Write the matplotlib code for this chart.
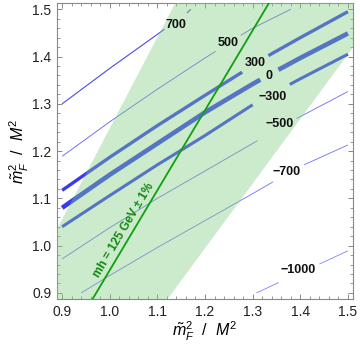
import matplotlib
matplotlib.use("Agg")
import matplotlib.pyplot as plt
import numpy as np
from matplotlib.ticker import MultipleLocator, FormatStrFormatter

plt.rcParams['font.family'] = ['Liberation Sans', 'DejaVu Sans']
plt.rcParams['mathtext.fontset'] = 'custom'
plt.rcParams['mathtext.rm'] = 'Liberation Sans'
plt.rcParams['mathtext.it'] = 'Liberation Sans:italic'

# contour lines (x, y), None = gap for the label
c700_x = [0.90, 1.00, 1.10, 1.115, None, 1.162, 1.17]
c700_y = [1.30, 1.375, 1.447, 1.458, None, 1.492, 1.50]
c500_x = [0.90, 1.00, 1.10, 1.20, 1.222, None, 1.275, 1.30, 1.38]
c500_y = [1.189, 1.262, 1.331, 1.397, 1.411, None, 1.445, 1.46, 1.50]
c300_x = [0.90, 1.00, 1.10, 1.20, 1.278, None, 1.333, 1.40, 1.50]
c300_y = [1.117, 1.187, 1.254, 1.318, 1.367, None, 1.402, 1.440, 1.495]
c0_x = [0.90, 1.00, 1.10, 1.20, 1.30, 1.316, None, 1.354, 1.40, 1.50]
c0_y = [1.080, 1.150, 1.216, 1.282, 1.342, 1.351, None, 1.372, 1.397, 1.449]
cm300_x = [0.90, 1.00, 1.10, 1.20, 1.30, None, 1.378, 1.40, 1.50]
cm300_y = [1.040, 1.106, 1.171, 1.233, 1.298, None, 1.341, 1.353, 1.405]
cm500_x = [0.90, 1.00, 1.10, 1.20, 1.31, None, 1.392, 1.40, 1.50]
cm500_y = [0.972, 1.038, 1.100, 1.158, 1.222, None, 1.269, 1.273, 1.326]
cm700_x = [0.94, 1.00, 1.10, 1.20, 1.30, 1.343, None, 1.408, 1.50]
cm700_y = [0.90, 0.937, 0.996, 1.053, 1.110, 1.135, None, 1.171, 1.213]
cm1000_x = [1.308, 1.355, None, 1.44, 1.50]
cm1000_y = [0.90, 0.922, None, 0.961, 0.989]

contour_labels = ["700", "500", "300", "0", "\u2212300", "\u2212500", "\u2212700", "\u22121000"]
label_x = [1.139, 1.248, 1.305, 1.334, 1.342, 1.357, 1.372, 1.395]
label_y = [1.466, 1.428, 1.386, 1.358, 1.314, 1.257, 1.155, 0.948]

# allowed band (m_h = 125 GeV +- 1%)
band_x = [0.87, 0.87, 1.141, 1.52, 1.52, 1.109]
band_y = [0.87, 0.998, 1.52, 1.52, 1.432, 0.87]

# m_h = 125 GeV line
mh_x = [0.955, 1.340]
mh_y = [0.872, 1.523]

lines = [
    (c700_x, c700_y, 0.8, '#4a4ae8'),
    (c500_x, c500_y, 0.6, '#5e5ef5'),
    (c300_x, c300_y, 2.4, '#3a3af0'),
    (c0_x, c0_y, 3.3, '#3a3af0'),
    (cm300_x, cm300_y, 2.2, '#3a3af0'),
    (cm500_x, cm500_y, 0.6, '#6a6af5'),
    (cm700_x, cm700_y, 0.6, '#7070f8'),
    (cm1000_x, cm1000_y, 0.6, '#8080ff'),
]

fig = plt.figure(figsize=(3.6, 3.51), dpi=100)
ax = fig.add_axes([0.158, 0.148, 0.823, 0.843])

for xs, ys, lw, col in lines:
    xx = np.array([np.nan if v is None else v for v in xs], dtype=float)
    yy = np.array([np.nan if v is None else v for v in ys], dtype=float)
    ax.plot(xx, yy, color=col, lw=lw, solid_capstyle='butt', zorder=2)

ax.fill(band_x, band_y, color=(0.5, 0.8, 0.5), alpha=0.4, lw=0, zorder=3)
ax.plot(mh_x, mh_y, color='#11a011', lw=1.3, zorder=4)

for t, x, y in zip(contour_labels, label_x, label_y):
    ax.text(x, y, t, ha='center', va='center', fontsize=9, fontweight='bold',
            color='#111111', zorder=5)

ax.text(1.030, 1.033, "mh = 125 GeV \u00b1 1%", rotation=59.3, ha='center',
        va='center', fontsize=8.5, fontweight='semibold', color='#118811',
        rotation_mode='anchor', zorder=5)

ax.set_xlim(0.889, 1.511)
ax.set_ylim(0.887, 1.513)
ax.xaxis.set_major_locator(MultipleLocator(0.1))
ax.xaxis.set_minor_locator(MultipleLocator(0.02))
ax.yaxis.set_major_locator(MultipleLocator(0.1))
ax.yaxis.set_minor_locator(MultipleLocator(0.02))
ax.xaxis.set_major_formatter(FormatStrFormatter('%.1f'))
ax.yaxis.set_major_formatter(FormatStrFormatter('%.1f'))
ax.tick_params(which='both', direction='in', top=True, right=True, color='#888888',
               labelsize=10, labelcolor='#222222')
ax.tick_params(which='major', length=3.8, width=0.7, pad=4)
ax.tick_params(which='minor', length=2.2, width=0.6)
for s in ax.spines.values():
    s.set_color('#888888')
    s.set_linewidth(0.8)

ax.set_xlabel(r'$\tilde{m}_F^2$  /  $M^2$', fontsize=11.5, labelpad=1)
ax.set_ylabel(r'$\tilde{m}_{F}^2$  /  $M^2$', fontsize=11.5, labelpad=1)

fig.savefig('out.png', dpi=100)
